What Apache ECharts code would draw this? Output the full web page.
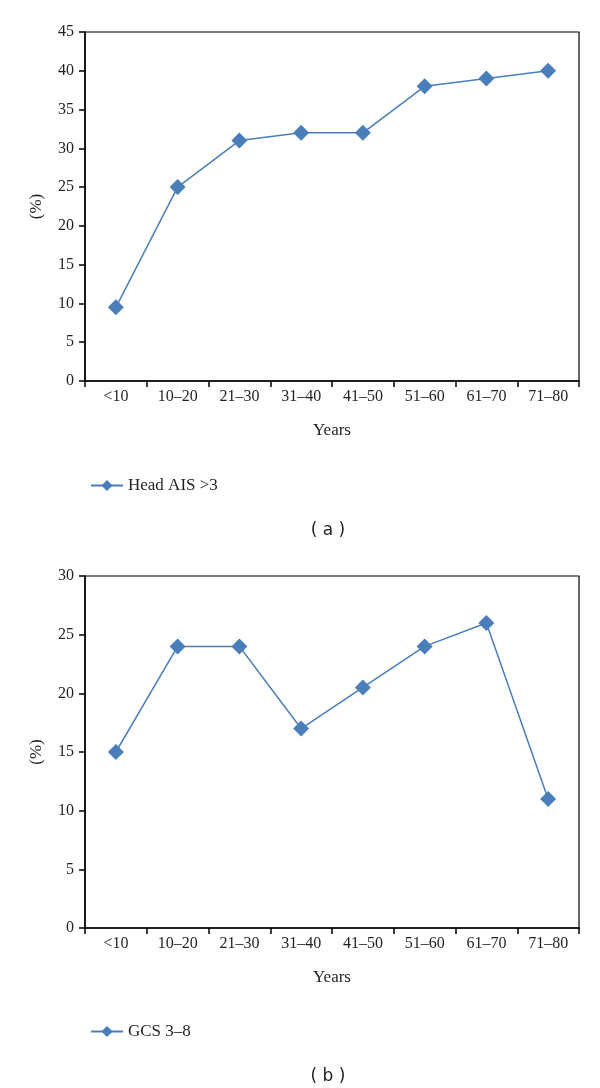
<!DOCTYPE html>
<html>
<head>
<meta charset="utf-8">
<script src="https://cdn.jsdelivr.net/npm/echarts@6/dist/echarts.min.js"></script>
<style>
  html, body { margin: 0; padding: 0; background: #fff; }
</style>
</head>
<body>
<div id="main" style="width: 600px;height:1088px;"></div>
<script type="text/javascript">
    // 数据
    var ageGroups = ['<10', '10\u201320', '21\u201330', '31\u201340', '41\u201350', '51\u201360', '61\u201370', '71\u201380'];
    var headAIS = [9.5, 25, 31, 32, 32, 38, 39, 40];
    var gcs = [15, 24, 24, 17, 20.5, 24, 26, 11];
    var yTicksA = [0, 45, 5];   // min, max, interval
    var yTicksB = [0, 30, 5];

    var serif = 'Liberation Serif';
    var blue = '#4a7ebb';
    var ink = '#231f20';

    function makeX(gridIndex) {
        return {
            type: 'category',
            gridIndex: gridIndex,
            data: ageGroups,
            boundaryGap: true,
            name: 'Years',
            nameLocation: 'middle',
            nameGap: 41,
            nameTextStyle: {fontFamily: serif, fontSize: 17, color: ink},
            axisLine: {lineStyle: {color: '#000', width: 1.5}},
            axisTick: {show: true, inside: false, length: 6, lineStyle: {color: '#000', width: 1.5}},
            axisLabel: {fontFamily: serif, fontSize: 16, color: ink, margin: 8, interval: 0},
            splitLine: {show: false}
        };
    }

    function makeY(gridIndex, t) {
        return {
            type: 'value',
            gridIndex: gridIndex,
            min: t[0],
            max: t[1],
            interval: t[2],
            name: '(%)',
            nameLocation: 'middle',
            nameRotate: 90,
            nameGap: 40,
            nameTextStyle: {fontFamily: serif, fontSize: 17, color: ink},
            axisLine: {show: true, lineStyle: {color: '#000', width: 1.5}},
            axisTick: {show: true, length: 6, lineStyle: {color: '#000', width: 1.5}},
            axisLabel: {fontFamily: serif, fontSize: 16, color: ink, margin: 11},
            splitLine: {show: false}
        };
    }

    var myChart = echarts.init(document.getElementById('main'));

    var option = {
        backgroundColor: '#fff',
        animation: false,
        title: [
            {text: '( a )', left: 323, top: 517, textAlign: 'center',
             textStyle: {fontFamily: 'DejaVu Sans', fontSize: 17, fontWeight: 'normal', color: ink}},
            {text: '( b )', left: 323, top: 1063, textAlign: 'center',
             textStyle: {fontFamily: 'DejaVu Sans', fontSize: 17, fontWeight: 'normal', color: ink}}
        ],
        legend: [
            {data: ['Head AIS >3'], left: 85, top: 472, itemWidth: 32, itemHeight: 14, itemGap: 10,
             textStyle: {fontFamily: serif, fontSize: 17, color: ink}},
            {data: ['GCS 3\u20138'], left: 85, top: 1018, itemWidth: 32, itemHeight: 14, itemGap: 10,
             textStyle: {fontFamily: serif, fontSize: 17, color: ink}}
        ],
        grid: [
            {left: 85, top: 32, width: 494, height: 349, show: true, borderColor: '#000', borderWidth: 1.2},
            {left: 85, top: 576, width: 494, height: 352, show: true, borderColor: '#000', borderWidth: 1.2}
        ],
        xAxis: [makeX(0), makeX(1)],
        yAxis: [makeY(0, yTicksA), makeY(1, yTicksB)],
        series: [
            {
                name: 'Head AIS >3',
                type: 'line',
                xAxisIndex: 0,
                yAxisIndex: 0,
                data: headAIS,
                symbol: 'diamond',
                symbolSize: 16,
                itemStyle: {color: blue},
                lineStyle: {color: blue, width: 1.5}
            },
            {
                name: 'GCS 3\u20138',
                type: 'line',
                xAxisIndex: 1,
                yAxisIndex: 1,
                data: gcs,
                symbol: 'diamond',
                symbolSize: 16,
                itemStyle: {color: blue},
                lineStyle: {color: blue, width: 1.5}
            }
        ]
    };

    myChart.setOption(option);
</script>
</body>
</html>
